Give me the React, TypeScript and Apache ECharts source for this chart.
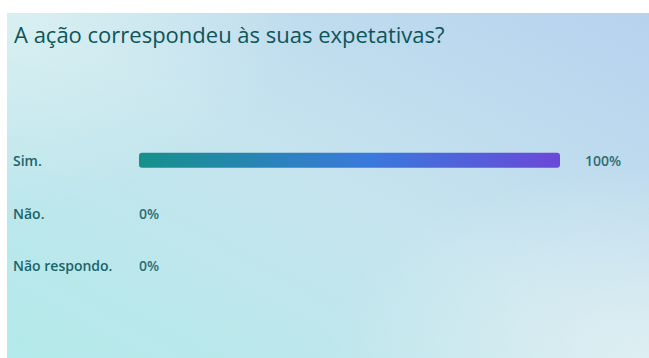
import React, { useEffect, useRef } from "react";
import * as echarts from "echarts";

const title = "A ação correspondeu às suas expetativas?";
const answers = ["Sim.", "Não.", "Não respondo."];
const percentages = [100, 0, 0];

const textColor = "#1a6469";

export default function App() {
  const ref = useRef<HTMLDivElement>(null);

  useEffect(() => {
    if (!ref.current) return;
    const chart = echarts.init(ref.current, null, { renderer: "svg" });

    const data = percentages.map((v) =>
      v === 0
        ? { value: v, label: { position: "insideLeft", distance: 0 } }
        : { value: v }
    );

    chart.setOption({
      animation: false,
      backgroundColor: "transparent",
      title: {
        text: title,
        left: 2,
        top: 5,
        textStyle: {
          fontFamily: "Open Sans",
          fontSize: 22,
          fontWeight: 500,
          color: "#0d5558",
        },
      },
      grid: { left: 132, right: 89, top: 121, height: 158 },
      xAxis: {
        type: "value",
        min: 0,
        max: 100,
        show: false,
      },
      yAxis: {
        type: "category",
        inverse: true,
        data: answers,
        axisLine: { show: false },
        axisTick: { show: false },
        splitLine: { show: false },
        axisLabel: {
          align: "left",
          margin: 126,
          fontFamily: "Open Sans",
          fontSize: 14,
          fontWeight: 600,
          color: textColor,
        },
      },
      series: [
        {
          type: "bar",
          data,
          barWidth: 15,
          itemStyle: {
            borderRadius: 3,
            color: new echarts.graphic.LinearGradient(0, 0, 1, 0, [
              { offset: 0, color: "#15918b" },
              { offset: 0.55, color: "#3a79dd" },
              { offset: 1, color: "#6b48d8" },
            ]),
          },
          label: {
            show: true,
            position: "right",
            distance: 25,
            formatter: "{c}%",
            fontFamily: "Open Sans",
            fontSize: 14,
            fontWeight: 600,
            color: "#2b6e75",
          },
        },
      ],
    });

    return () => chart.dispose();
  }, []);

  return (
    <div
      ref={ref}
      style={{
        position: "absolute",
        left: 7,
        top: 13,
        width: 642,
        height: 345,
        background:
          "radial-gradient(ellipse 45% 55% at 0% 0%, rgba(220,242,242,0.85), rgba(220,242,242,0) 100%)," +
          "radial-gradient(ellipse 50% 55% at 100% 100%, rgba(225,240,243,0.9), rgba(225,240,243,0) 100%)," +
          "linear-gradient(to top right, #b3eaea 0%, #c6e4ee 50%, #b7d2ee 100%)",
      }}
    />
  );
}
